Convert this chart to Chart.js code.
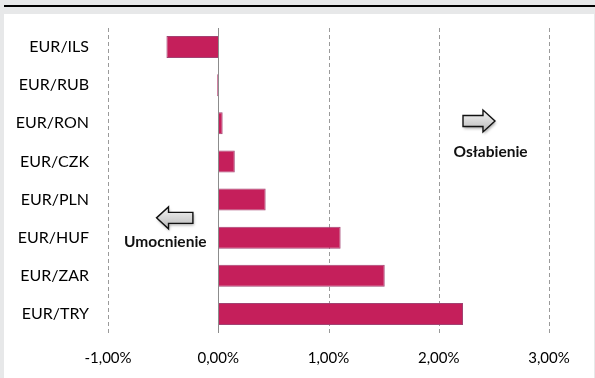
<!DOCTYPE html>
<html>
<head>
<meta charset="utf-8">
<script src="https://cdn.jsdelivr.net/npm/chart.js@4.4.1/dist/chart.umd.min.js"></script>
<style>
	html, body { margin: 0; padding: 0; }
	body { width: 595px; height: 378px; background: #e7e8e9; position: relative; overflow: hidden; }
	#topline { position: absolute; left: 4px; top: 5px; width: 591px; height: 2px; background: #000; }
	#panel { position: absolute; left: 4px; top: 14px; width: 590px; height: 364px; background: #fff; }
	canvas { display: block; }
</style>
</head>
<body>
<div id="topline"></div>
<div id="panel"><canvas id="chart" width="590" height="364"></canvas></div>
<script>
const categories = ['EUR/ILS', 'EUR/RUB', 'EUR/RON', 'EUR/CZK', 'EUR/PLN', 'EUR/HUF', 'EUR/ZAR', 'EUR/TRY'];
const changes = [-0.47, -0.01, 0.04, 0.15, 0.43, 1.11, 1.51, 2.22];
const xMin = -1;
const xMax = 3;
const weakLabel = 'Osłabienie';
const strongLabel = 'Umocnienie';

const FONT = 'Lato, "Open Sans", sans-serif';

function drawArrow(ctx, x0, x1, yc, dir)
{
	// block arrow, dir 1 = right, -1 = left
	let bodyH = 11, headH = 22, headL = 12;
	let tip = dir > 0 ? x1 : x0;
	let tail = dir > 0 ? x0 : x1;
	let base = tip - dir * headL;
	ctx.save();
	ctx.beginPath();
	ctx.moveTo(tail, yc - bodyH / 2);
	ctx.lineTo(base, yc - bodyH / 2);
	ctx.lineTo(base, yc - headH / 2);
	ctx.lineTo(tip, yc);
	ctx.lineTo(base, yc + headH / 2);
	ctx.lineTo(base, yc + bodyH / 2);
	ctx.lineTo(tail, yc + bodyH / 2);
	ctx.closePath();
	ctx.shadowColor = 'rgba(0,0,0,0.35)';
	ctx.shadowBlur = 3;
	ctx.shadowOffsetX = 1;
	ctx.shadowOffsetY = 2;
	let g = ctx.createLinearGradient(0, yc - headH / 2, 0, yc + headH / 2);
	g.addColorStop(0, '#f6f6f6');
	g.addColorStop(1, '#b8b8b8');
	ctx.fillStyle = g;
	ctx.fill();
	ctx.shadowColor = 'transparent';
	ctx.lineWidth = 1.4;
	ctx.strokeStyle = '#111';
	ctx.stroke();
	ctx.restore();
}

const overlay = {
	id: 'overlay',
	beforeDatasetsDraw(chart) {
		// dashed vertical grid lines (not at zero)
		const ctx = chart.ctx;
		const x = chart.scales.x;
		const area = chart.chartArea;
		ctx.save();
		ctx.strokeStyle = '#9a9a9a';
		ctx.lineWidth = 1;
		ctx.setLineDash([4, 3]);
		for(const t of x.ticks)
		{
			if(t.value===0)
				continue;
			let px = Math.round(x.getPixelForValue(t.value)) + 0.5;
			ctx.beginPath();
			ctx.moveTo(px, area.top);
			ctx.lineTo(px, area.bottom);
			ctx.stroke();
		}
		ctx.restore();
	},
	afterDatasetsDraw(chart) {
		const ctx = chart.ctx;
		const x = chart.scales.x;
		const y = chart.scales.y;
		const area = chart.chartArea;

		// solid zero line over the bars
		let x0 = Math.round(x.getPixelForValue(0)) + 0.5;
		ctx.save();
		ctx.strokeStyle = '#8c8c8c';
		ctx.lineWidth = 1;
		ctx.beginPath();
		ctx.moveTo(x0, area.top);
		ctx.lineTo(x0, area.bottom);
		ctx.stroke();

		// annotations
		let rowH = y.getPixelForValue(1) - y.getPixelForValue(0);
		let ry = y.getPixelForValue(2) - rowH * 0.06;
		drawArrow(ctx, x.getPixelForValue(2.22), x.getPixelForValue(2.51), ry, 1);
		let ly = y.getPixelForValue(4) + rowH * 0.48;
		drawArrow(ctx, x.getPixelForValue(-0.56), x.getPixelForValue(-0.23), ly, -1);

		ctx.fillStyle = '#111';
		ctx.font = 'bold 15.5px ' + FONT;
		ctx.textAlign = 'center';
		ctx.textBaseline = 'middle';
		ctx.fillText(weakLabel, x.getPixelForValue(2.47), y.getPixelForValue(3) - rowH * 0.24);
		ctx.fillText(strongLabel, x.getPixelForValue(-0.48), y.getPixelForValue(5) + rowH * 0.12);
		ctx.restore();
	}
};

new Chart(document.getElementById('chart'), {
	type: 'bar',
	data: {
		labels: categories,
		datasets: [{
			data: changes,
			backgroundColor: '#c51f5b',
			borderColor: '#a24272',
			borderWidth: 1,
			barPercentage: 0.58,
			categoryPercentage: 1,
		}],
	},
	options: {
		indexAxis: 'y',
		responsive: false,
		animation: false,
		layout: { padding: { top: 14, right: 45, left: 0, bottom: 0 } },
		plugins: {
			legend: { display: false },
			tooltip: { enabled: false },
		},
		scales: {
			x: {
				min: xMin,
				max: xMax,
				afterFit: s => { s.height = 45; s.paddingLeft = 0; s.paddingRight = 0; },
				ticks: {
					stepSize: 1,
					padding: 16,
					color: '#000',
					font: { family: FONT, size: 15 },
					callback: v => v.toFixed(2).replace('.', ',') + '%',
				},
				grid: { display: false, drawTicks: false },
				border: { display: false },
			},
			y: {
				afterFit: s => { s.width = 104; s.paddingTop = 0; s.paddingBottom = 0; },
				ticks: {
					padding: 19,
					color: '#000',
					font: { family: FONT, size: 16 },
				},
				grid: { display: false, drawTicks: false },
				border: { display: false },
			},
		},
	},
	plugins: [overlay],
});
</script>
</body>
</html>
